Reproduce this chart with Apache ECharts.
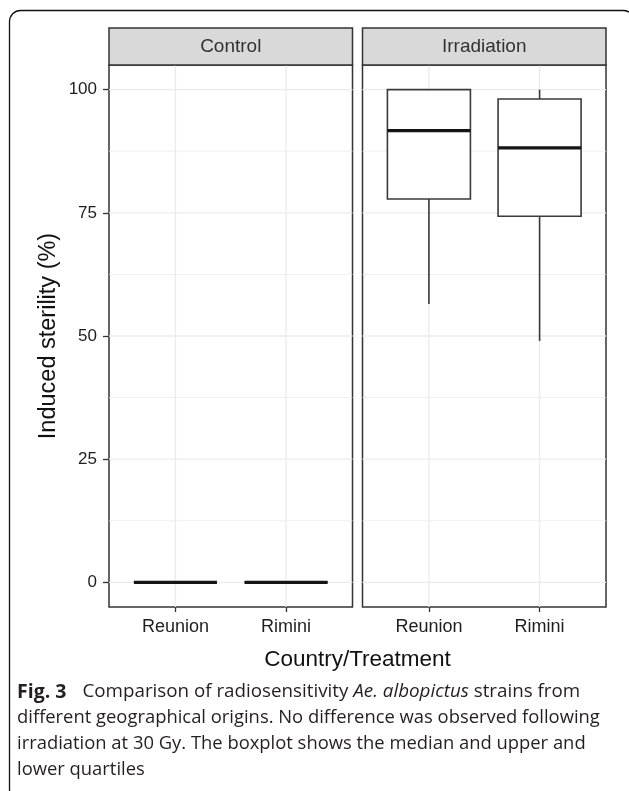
<!DOCTYPE html>
<html>
<head>
<meta charset="utf-8">
<script src="https://cdn.jsdelivr.net/npm/echarts@6/dist/echarts.min.js"></script>
<style>html,body{margin:0;padding:0;background:#fff;}#c{width:629px;height:791px;}</style>
</head>
<body>
<div id="c"></div>
<script>
// ---- data ----
const panels = ['Control', 'Irradiation'];
const categories = ['Reunion', 'Rimini'];
// [min, Q1, median, Q3, max] per category
const controlStats = [[0, 0, 0, 0, 0], [0, 0, 0, 0, 0]];
const irradiationStats = [[56.5, 77.8, 91.7, 100, 100], [49.0, 74.3, 88.2, 98.1, 100]];
const yTicks = [0, 25, 50, 75, 100];
const yMinorTicks = [12.5, 37.5, 62.5, 87.5];
const yLabel = 'Induced sterility (%)';
const xLabel = 'Country/Treatment';
const captionLines = [
  '{b|Fig. 3}{g| }Comparison of radiosensitivity {i|Ae. albopictus} strains from',
  'different geographical origins. No difference was observed following',
  'irradiation at 30 Gy. The boxplot shows the median and upper and',
  'lower quartiles'
];

const chart = echarts.init(document.getElementById('c'), null, {renderer: 'canvas'});

const panelTop = 65, panelH = 542, panelW = 243.5;
const panelLefts = [109, 362.5];
const statsByPanel = [controlStats, irradiationStats];
const catPos = categories.map((c, i) => i + 1);

const FONT = 'Liberation Sans, Arial, sans-serif';

function boxRender(params, api) {
  const x = api.value(0);
  const mn = api.value(1), q1 = api.value(2), md = api.value(3), q3 = api.value(4), mx = api.value(5);
  const hw = 0.375;
  const pL = api.coord([x - hw, q1]);
  const pR = api.coord([x + hw, q3]);
  const c = api.coord([x, md]);
  const yMin = api.coord([x, mn])[1], yMax = api.coord([x, mx])[1];
  const yQ1 = pL[1], yQ3 = pR[1];
  const stroke = '#3a3a3a';
  return {
    type: 'group',
    children: [
      {type: 'line', shape: {x1: c[0], y1: yQ3, x2: c[0], y2: yMax}, style: {stroke: stroke, lineWidth: 1.6}},
      {type: 'line', shape: {x1: c[0], y1: yQ1, x2: c[0], y2: yMin}, style: {stroke: stroke, lineWidth: 1.6}},
      {type: 'rect', shape: {x: pL[0], y: yQ3, width: pR[0] - pL[0], height: yQ1 - yQ3}, style: {fill: '#fff', stroke: stroke, lineWidth: 1.6}},
      {type: 'line', shape: {x1: pL[0], y1: c[1], x2: pR[0], y2: c[1]}, style: {stroke: '#151515', lineWidth: 3.2}}
    ]
  };
}

function hGridRender(width) {
  return function (params, api) {
    const cs = params.coordSys;
    const y = api.coord([1, api.value(0)])[1];
    return {type: 'line', shape: {x1: cs.x, y1: y, x2: cs.x + cs.width, y2: y}, style: {stroke: '#ebebeb', lineWidth: width}};
  };
}
function vGridRender(params, api) {
  const cs = params.coordSys;
  const x = api.coord([api.value(0), 0])[0];
  return {type: 'line', shape: {x1: x, y1: cs.y, x2: x, y2: cs.y + cs.height}, style: {stroke: '#ebebeb', lineWidth: 1.3}};
}

const grids = [], xAxes = [], yAxes = [], series = [];
panels.forEach((p, i) => {
  grids.push({left: panelLefts[i], top: panelTop, width: panelW, height: panelH,
    show: true, borderColor: '#333', borderWidth: 1.5, backgroundColor: '#fff'});
  xAxes.push({type: 'value', gridIndex: i, min: 0.4, max: 2.6, position: 'bottom',
    axisLine: {show: false, onZero: false}, splitLine: {show: false},
    axisTick: {show: true, customValues: catPos, length: 5, lineStyle: {color: '#333', width: 1.3}},
    axisLabel: {show: true, customValues: catPos, margin: 11, color: '#1e1e1e', fontSize: 18, fontFamily: FONT,
      formatter: v => categories[Math.round(v) - 1] || ''}});
  yAxes.push({type: 'value', gridIndex: i, min: -5, max: 105, position: 'left',
    axisLine: {show: false, onZero: false}, splitLine: {show: false},
    axisTick: {show: i === 0, customValues: yTicks, length: 6, lineStyle: {color: '#333', width: 1.3}},
    axisLabel: {show: i === 0, customValues: yTicks, margin: 12, color: '#1e1e1e', fontSize: 17, fontFamily: FONT},
    name: i === 0 ? yLabel : '', nameLocation: 'middle', nameRotate: 90, nameGap: 48,
    nameTextStyle: {fontSize: 23.5, color: '#111', fontFamily: FONT}});
  series.push({type: 'custom', xAxisIndex: i, yAxisIndex: i, z: 1, silent: true,
    renderItem: hGridRender(0.8), data: yMinorTicks.map(v => [v])});
  series.push({type: 'custom', xAxisIndex: i, yAxisIndex: i, z: 1, silent: true,
    renderItem: hGridRender(1.3), data: yTicks.map(v => [v])});
  series.push({type: 'custom', xAxisIndex: i, yAxisIndex: i, z: 1, silent: true,
    renderItem: vGridRender, data: catPos.map(v => [v])});
  series.push({type: 'custom', xAxisIndex: i, yAxisIndex: i, z: 3, silent: true,
    renderItem: boxRender,
    data: statsByPanel[i].map((s, k) => [catPos[k]].concat(s))});
});

const graphics = [];
// outer frame
graphics.push({type: 'rect', shape: {x: 9.5, y: 10.5, width: 625, height: 790, r: 11},
  style: {fill: null, stroke: '#111', lineWidth: 1.3}, z: 0});
// strips
panels.forEach((p, i) => {
  graphics.push({type: 'rect', shape: {x: panelLefts[i], y: 28, width: panelW, height: panelTop - 28},
    style: {fill: '#d9d9d9', stroke: '#333', lineWidth: 1.5}, z: 10});
  graphics.push({type: 'text', x: panelLefts[i] + panelW / 2, y: 47,
    style: {text: p, fill: '#333', font: '19px ' + FONT, textAlign: 'center', textVerticalAlign: 'middle'}, z: 11});
});
// x axis title
graphics.push({type: 'text', x: (panelLefts[0] + panelLefts[1] + panelW) / 2, y: 660,
  style: {text: xLabel, fill: '#111', font: '22.5px ' + FONT, textAlign: 'center', textVerticalAlign: 'middle'}, z: 11});
// caption
const capFont = 'Open Sans';
const capSize = 18.4;
captionLines.forEach((t, k) => {
  graphics.push({type: 'text', x: 17, y: 692 + k * 26,
    style: {text: t, fill: '#231f20', fontSize: k === 0 ? 18.8 : capSize, fontFamily: capFont, textVerticalAlign: 'middle',
      rich: {
        b: {fontWeight: 'bold', fontSize: 19.5, fontFamily: capFont, fill: '#231f20', color: '#231f20'},
        g: {width: 16, fontSize: capSize, fontFamily: capFont},
        i: {fontStyle: 'italic', fontSize: 18.8, fontFamily: capFont, fill: '#231f20', color: '#231f20'}
      }}, z: 11});
});

chart.setOption({
  animation: false,
  backgroundColor: '#fff',
  grid: grids,
  xAxis: xAxes,
  yAxis: yAxes,
  series: series,
  graphic: graphics
});
</script>
</body>
</html>
